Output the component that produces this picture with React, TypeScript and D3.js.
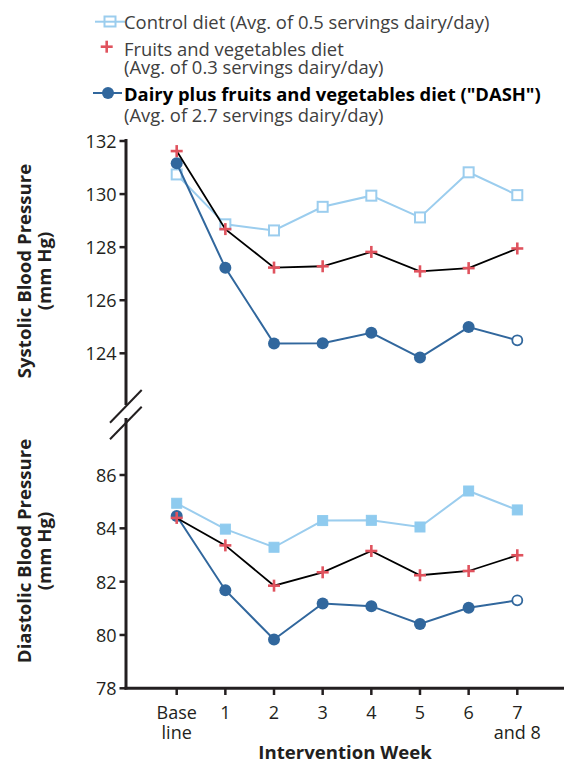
import React from "react";
import * as d3 from "d3";

const weeks = ["Baseline", "1", "2", "3", "4", "5", "6", "7and8"];
const weekLabels: string[][] = [["Base", "line"], ["1"], ["2"], ["3"], ["4"], ["5"], ["6"], ["7", "and 8"]];

const sysControl = [130.74, 128.86, 128.63, 129.52, 129.94, 129.12, 130.82, 129.96];
const sysFruitVeg = [131.62, 128.68, 127.23, 127.28, 127.82, 127.09, 127.21, 127.95];
const sysDash = [131.16, 127.22, 124.37, 124.38, 124.77, 123.84, 124.99, 124.49];

const diaControl = [84.94, 83.97, 83.29, 84.29, 84.3, 84.05, 85.4, 84.69];
const diaFruitVeg = [84.39, 83.36, 81.85, 82.35, 83.15, 82.24, 82.4, 82.99];
const diaDash = [84.46, 81.68, 79.83, 81.18, 81.08, 80.41, 81.02, 81.3];

const sysTicks = [124, 126, 128, 130, 132];
const diaTicks = [78, 80, 82, 84, 86];

const LIGHT = "#9bcdee";
const LIGHT_FILL = "#8fcbef";
const RED = "#e0535e";
const DARK = "#31679d";
const AXIS = "#231f20";
const FONT = "'Open Sans', sans-serif";
const LEG = 18.4;
const TICK = 18;
const TITLE = 18.6;

export default function App() {
  const x = d3.scalePoint<string>().domain(weeks).range([176.7, 517.3]);
  const ySys = d3.scaleLinear().domain([124, 132]).range([353.3, 141]);
  const yDia = d3.scaleLinear().domain([78, 86]).range([688.3, 475]);
  const line = (y: d3.ScaleLinear<number, number>) =>
    d3.line<number>().x((_, i) => x(weeks[i]) as number).y((v) => y(v));

  const plus = (cx: number, cy: number, key: string) => (
    <g key={key} stroke={RED} strokeWidth={2.6}>
      <line x1={cx - 6} x2={cx + 6} y1={cy} y2={cy} />
      <line x1={cx} x2={cx} y1={cy - 6} y2={cy + 6} />
    </g>
  );

  const panel = (
    y: d3.ScaleLinear<number, number>,
    control: number[],
    fv: number[],
    dash: number[],
    openControl: boolean,
    id: string
  ) => (
    <g key={id}>
      <path d={line(y)(control) || ""} fill="none" stroke={LIGHT} strokeWidth={2} />
      {control.map((v, i) => (
        <rect
          key={"c" + i}
          x={(x(weeks[i]) as number) - 5}
          y={y(v) - 5}
          width={10}
          height={10}
          fill={openControl ? "#fff" : LIGHT_FILL}
          stroke={openControl ? LIGHT : LIGHT_FILL}
          strokeWidth={openControl ? 2 : 1}
        />
      ))}
      <path d={line(y)(dash) || ""} fill="none" stroke={DARK} strokeWidth={2} />
      {dash.map((v, i) =>
        i === dash.length - 1 ? (
          <circle key={"d" + i} cx={x(weeks[i]) as number} cy={y(v)} r={5} fill="#fff" stroke={DARK} strokeWidth={1.8} />
        ) : (
          <circle key={"d" + i} cx={x(weeks[i]) as number} cy={y(v)} r={6} fill={DARK} />
        )
      )}
      <path d={line(y)(fv) || ""} fill="none" stroke="#000" strokeWidth={1.8} />
      {fv.map((v, i) => plus(x(weeks[i]) as number, y(v), "f" + i))}
    </g>
  );

  return (
    <svg width={580} height={763} style={{ position: "absolute", left: 0, top: 0, fontFamily: FONT }}>
      <rect width={580} height={763} fill="#fff" />
      {/* Legend */}
      <g>
        <line x1={95} x2={125} y1={21.7} y2={21.7} stroke={LIGHT} strokeWidth={2} />
        <rect x={104.5} y={16.5} width={11} height={10} fill="none" stroke={LIGHT} strokeWidth={2} />
        <text x={124} y={21.7} dominantBaseline="central" fontSize={LEG} fill="#404040">
          Control diet (Avg. of 0.5 servings dairy/day)
        </text>
        {plus(106.7, 46.7, "lp")}
        <text x={124} y={48} dominantBaseline="central" fontSize={LEG} fill="#404040">
          Fruits and vegetables diet
        </text>
        <text x={124} y={66.5} dominantBaseline="central" fontSize={LEG} fill="#404040">
          (Avg. of 0.3 servings dairy/day)
        </text>
        <line x1={93} x2={122} y1={93} y2={93} stroke={DARK} strokeWidth={2} />
        <circle cx={108} cy={93} r={6} fill={DARK} />
        <text x={124} y={93} dominantBaseline="central" fontSize={LEG} fontWeight="bold" fill="#000">
          Dairy plus fruits and vegetables diet ("DASH")
        </text>
        <text x={124} y={114} dominantBaseline="central" fontSize={LEG} fill="#404040">
          (Avg. of 2.7 servings dairy/day)
        </text>
      </g>

      {/* Axes */}
      <g stroke={AXIS} strokeWidth={3} fill="none">
        <line x1={126} x2={126} y1={139} y2={405} />
        <line x1={126} x2={126} y1={418} y2={689.5} />
        <line x1={124.5} x2={564} y1={688.3} y2={688.3} />
      </g>
      <g stroke={AXIS} strokeWidth={2}>
        <line x1={141.7} y1={390} x2={110} y2={422.7} />
        <line x1={141.7} y1={406.7} x2={110} y2={439.3} />
      </g>
      {sysTicks.map((t) => (
        <g key={"st" + t}>
          <line x1={119.5} x2={126} y1={ySys(t)} y2={ySys(t)} stroke={AXIS} strokeWidth={2.5} />
          <text x={116.5} y={ySys(t)} textAnchor="end" dominantBaseline="central" fontSize={TICK} fill={AXIS}>
            {t}
          </text>
        </g>
      ))}
      {diaTicks.map((t) => (
        <g key={"dt" + t}>
          <line x1={119.5} x2={126} y1={yDia(t)} y2={yDia(t)} stroke={AXIS} strokeWidth={2.5} />
          <text x={116.5} y={yDia(t)} textAnchor="end" dominantBaseline="central" fontSize={TICK} fill={AXIS}>
            {t}
          </text>
        </g>
      ))}
      {weeks.map((w, i) => (
        <g key={"xt" + w}>
          <line x1={x(w) as number} x2={x(w) as number} y1={688} y2={695} stroke={AXIS} strokeWidth={2.5} />
          {weekLabels[i].map((l, j) => (
            <text
              key={j}
              x={x(w) as number}
              y={711.7 + j * 20}
              textAnchor="middle"
              dominantBaseline="central"
              fontSize={TICK}
              fill={AXIS}
            >
              {l}
            </text>
          ))}
        </g>
      ))}
      <text x={345} y={759} textAnchor="middle" fontSize={TITLE} fontWeight="bold" fill={AXIS}>
        Intervention Week
      </text>
      <g transform="translate(0,271) rotate(-90)">
        <text x={0} y={23} textAnchor="middle" dominantBaseline="central" fontSize={TITLE} fontWeight="bold" fill={AXIS}>
          Systolic Blood Pressure
        </text>
        <text x={0} y={43} textAnchor="middle" dominantBaseline="central" fontSize={TITLE} fontWeight="bold" fill={AXIS}>
          (mm Hg)
        </text>
      </g>
      <g transform="translate(0,551) rotate(-90)">
        <text x={0} y={23} textAnchor="middle" dominantBaseline="central" fontSize={TITLE} fontWeight="bold" fill={AXIS}>
          Diastolic Blood Pressure
        </text>
        <text x={0} y={43} textAnchor="middle" dominantBaseline="central" fontSize={TITLE} fontWeight="bold" fill={AXIS}>
          (mm Hg)
        </text>
      </g>

      {panel(ySys, sysControl, sysFruitVeg, sysDash, true, "sys")}
      {panel(yDia, diaControl, diaFruitVeg, diaDash, false, "dia")}
    </svg>
  );
}
